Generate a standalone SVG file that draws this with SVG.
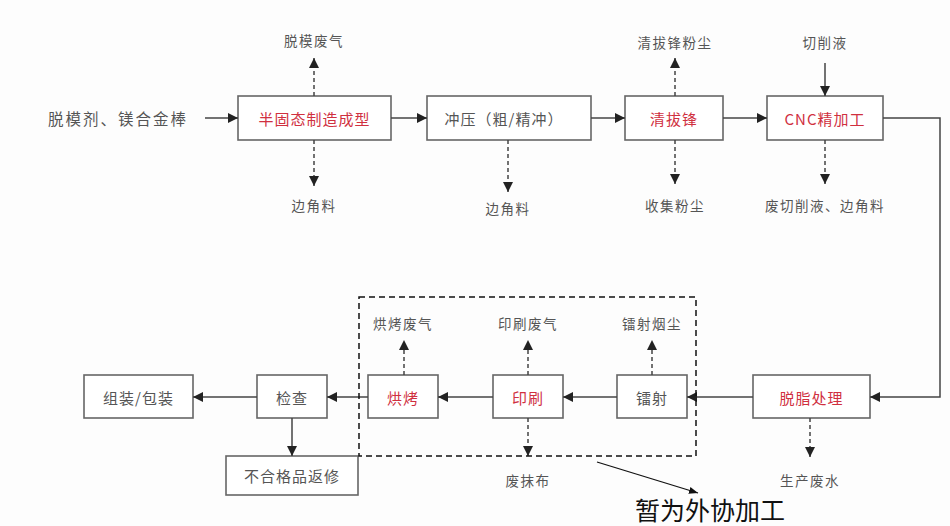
<svg xmlns="http://www.w3.org/2000/svg" width="950" height="526" viewBox="0 0 950 526">
<style>
.bx{fill:#fff;stroke:#666;stroke-width:1.6}
.t{font-family:"Noto Sans CJK SC","Liberation Serif",serif;font-size:15px;fill:#555;text-anchor:middle;dominant-baseline:central;letter-spacing:1px}
.r{fill:#d0303f}
.lb{font-size:13.5px;letter-spacing:1.5px}
.ln{fill:none;stroke:#444;stroke-width:1.5}
.ds{fill:none;stroke:#444;stroke-width:1.5;stroke-dasharray:4 3}
</style>
<defs>
<marker id="ah" viewBox="0 0 10 10" refX="10" refY="5" markerWidth="10" markerHeight="10" markerUnits="userSpaceOnUse" orient="auto"><path d="M0,0 L10,5 L0,10 Z" fill="#222"/></marker>
<marker id="ah2" viewBox="0 0 10 10" refX="10" refY="5" markerWidth="9" markerHeight="9" markerUnits="userSpaceOnUse" orient="auto"><path d="M0,1 L10,5 L0,9 Z" fill="#111"/></marker>
</defs>
<rect width="950" height="526" fill="#fdfdfd"/>
<g id="n1"><rect class="bx" x="238" y="96" width="153" height="44"/><text class="t r" x="314.5" y="118">半固态制造成型</text></g>
<g id="n2"><rect class="bx" x="427" y="96" width="164" height="44"/><text class="t" x="504" y="118">冲压（粗/精冲）</text></g>
<g id="n3"><rect class="bx" x="625" y="96" width="98" height="44"/><text class="t r" x="674" y="118">清拔锋</text></g>
<g id="n4"><rect class="bx" x="767" y="96" width="116" height="44"/><text class="t r" x="825" y="118">CNC精加工</text></g>
<g id="n5"><rect class="bx" x="753" y="375" width="117" height="43"/><text class="t r" x="811.5" y="397">脱脂处理</text></g>
<g id="n6"><rect class="bx" x="617" y="375" width="70" height="43"/><text class="t" x="652" y="397">镭射</text></g>
<g id="n7"><rect class="bx" x="493" y="375" width="70" height="43"/><text class="t r" x="528" y="397">印刷</text></g>
<g id="n8"><rect class="bx" x="368" y="375" width="70" height="43"/><text class="t r" x="403" y="397">烘烤</text></g>
<g id="n9"><rect class="bx" x="257" y="375" width="70" height="43"/><text class="t" x="292" y="397">检查</text></g>
<g id="n10"><rect class="bx" x="84" y="375" width="109" height="43"/><text class="t" x="138.5" y="397">组装/包装</text></g>
<g id="n11"><rect class="bx" x="226" y="456" width="132" height="39"/><text class="t" x="292" y="475.5">不合格品返修</text></g>
<g id="labels">
<text class="t" x="118" y="118" style="font-size:15.5px;letter-spacing:2px">脱模剂、镁合金棒</text>
<text class="t lb" x="314" y="40">脱模废气</text>
<text class="t lb" x="314" y="205">边角料</text>
<text class="t lb" x="508" y="208">边角料</text>
<text class="t lb" x="675" y="42">清拔锋粉尘</text>
<text class="t lb" x="675" y="205">收集粉尘</text>
<text class="t lb" x="825" y="42">切削液</text>
<text class="t lb" x="825" y="205">废切削液、边角料</text>
<text class="t lb" x="403" y="323">烘烤废气</text>
<text class="t lb" x="528" y="323">印刷废气</text>
<text class="t lb" x="652" y="323">镭射烟尘</text>
<text class="t lb" x="528" y="480">废抹布</text>
<text class="t lb" x="810" y="480">生产废水</text>
<text x="710" y="509" style="font-family:'Noto Sans CJK SC','Liberation Sans',sans-serif;font-size:25px;fill:#111;text-anchor:middle;dominant-baseline:central">暂为外协加工</text>
</g>
<g id="connectors">
<path class="ln" d="M205,118 H238" marker-end="url(#ah)"/>
<path class="ln" d="M391,118 H427" marker-end="url(#ah)"/>
<path class="ln" d="M591,118 H625" marker-end="url(#ah)"/>
<path class="ln" d="M723,118 H767" marker-end="url(#ah)"/>
<path class="ln" d="M825,63 V96" marker-end="url(#ah)"/>
<path class="ln" d="M883,118 H940 V397 H870" marker-end="url(#ah)"/>
<path class="ln" d="M753,397 H687" marker-end="url(#ah)"/>
<path class="ln" d="M617,397 H563" marker-end="url(#ah)"/>
<path class="ln" d="M493,397 H438" marker-end="url(#ah)"/>
<path class="ln" d="M368,397 H327" marker-end="url(#ah)"/>
<path class="ln" d="M257,397 H193" marker-end="url(#ah)"/>
<path class="ln" d="M292,418 V456" marker-end="url(#ah)"/>
<path class="ds" d="M314,96 V58" marker-end="url(#ah)"/>
<path class="ds" d="M314,140 V186" marker-end="url(#ah)"/>
<path class="ds" d="M508,140 V192" marker-end="url(#ah)"/>
<path class="ds" d="M675,96 V58" marker-end="url(#ah)"/>
<path class="ds" d="M675,140 V184" marker-end="url(#ah)"/>
<path class="ds" d="M825,140 V184" marker-end="url(#ah)"/>
<path class="ds" d="M404,375 V340" marker-end="url(#ah)"/>
<path class="ds" d="M528,375 V340" marker-end="url(#ah)"/>
<path class="ds" d="M652,375 V340" marker-end="url(#ah)"/>
<path class="ds" d="M528,418 V456" marker-end="url(#ah)"/>
<path class="ds" d="M810,418 V457" marker-end="url(#ah)"/>
<rect x="359" y="297" width="337" height="159" fill="none" stroke="#111" stroke-width="1.5" stroke-dasharray="6 4"/>
<path d="M597,462 L698,493" fill="none" stroke="#111" stroke-width="1.3" marker-end="url(#ah2)"/>
</g>
</svg>
